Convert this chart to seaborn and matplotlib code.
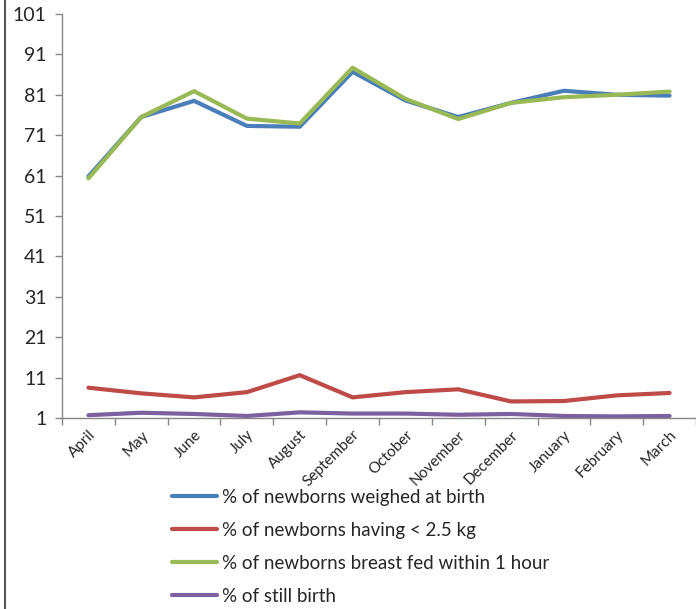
import pandas as pd
import matplotlib.pyplot as plt
import seaborn as sns
from matplotlib.lines import Line2D
from matplotlib.ticker import FixedLocator

months = ["April", "May", "June", "July", "August", "September", "October",
          "November", "December", "January", "February", "March"]

weighed = [60.8, 75.5, 79.5, 73.3, 73.1, 86.7, 79.6, 75.5, 79.0, 82.0, 81.0, 80.8]
low_weight = [8.5, 7.1, 6.1, 7.4, 11.6, 6.1, 7.4, 8.1, 5.1, 5.2, 6.6, 7.2]
breast_fed = [60.3, 75.5, 81.9, 75.1, 73.9, 87.7, 80.0, 75.0, 79.0, 80.4, 81.0, 81.8]
still_birth = [1.7, 2.3, 2.0, 1.5, 2.4, 2.1, 2.1, 1.8, 2.0, 1.5, 1.4, 1.5]

series_names = ["% of newborns weighed at birth",
                "% of newborns having < 2.5 kg",
                "% of newborns breast fed within 1 hour",
                "% of still birth"]
colors = ["#4A7EBB", "#BE4B48", "#98B954", "#7D60A0"]

rows = []
for name, vals in zip(series_names, [weighed, low_weight, breast_fed, still_birth]):
    for m, v in zip(months, vals):
        rows.append({"Month": m, "Value": v, "Series": name})
df = pd.DataFrame(rows)

sns.set_style("white")
plt.rcParams['font.family'] = ['Lato', 'DejaVu Sans']

fig = plt.figure(figsize=(6.96, 6.09), dpi=100)
ax = fig.add_axes([62 / 696, 1 - 418 / 609, 1 - 62 / 696, (418 - 14) / 609])

sns.lineplot(data=df, x="Month", y="Value", hue="Series", palette=colors,
             sort=False, linewidth=3, ax=ax, legend=False)

ax.set_xlim(-0.5, 11.5)
ax.set_ylim(1, 101)
ax.set_yticks(range(1, 102, 10))
ax.set_xlabel("")
ax.set_ylabel("")

ax.set_xticks(range(12))
ax.set_xticklabels(months, rotation=45, ha="right", rotation_mode="anchor", fontsize=11)
ax.xaxis.set_minor_locator(FixedLocator([i - 0.5 for i in range(13)]))
ax.tick_params(axis="x", which="major", length=0, pad=7)
ax.tick_params(axis="x", which="minor", length=5, color="#868686", width=1, direction="out")
ax.tick_params(axis="y", length=5, color="#868686", width=1, direction="out", labelsize=14, pad=6)
ax.tick_params(bottom=True, left=True, which="both")

for s in ["top", "right"]:
    ax.spines[s].set_visible(False)
for s in ["left", "bottom"]:
    ax.spines[s].set_color("#868686")
    ax.spines[s].set_linewidth(1)

handles = [Line2D([0], [0], color=c, lw=3) for c in colors]
fig.legend(handles, series_names, loc="upper left", bbox_to_anchor=(172 / 696, 1 - 489 / 609),
           frameon=False, fontsize=13.5, handlelength=2.4, handletextpad=0.25,
           labelspacing=0.85, borderpad=0, borderaxespad=0)

fig.add_artist(Line2D([5 / 696, 5 / 696], [0, 1], color="#555555", lw=1.5,
                      transform=fig.transFigure))

fig.savefig("out.png", dpi=100)
